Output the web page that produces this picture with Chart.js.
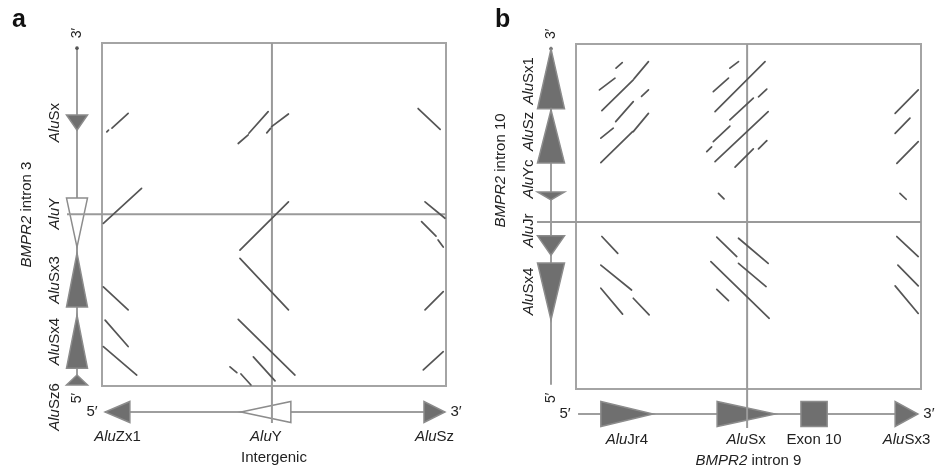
<!DOCTYPE html>
<html>
<head>
<meta charset="utf-8">
<script src="https://cdn.jsdelivr.net/npm/chart.js@4"></script>
<style>
  body { margin: 0; background: #fff; }
  #wrap { position: relative; width: 936px; height: 472px; }
  .panel { position: absolute; top: 0; width: 468px; height: 472px; }
</style>
</head>
<body>
<div id="wrap">
  <div class="panel" style="left:0"><canvas id="chartA"></canvas></div>
  <div class="panel" style="left:468px"><canvas id="chartB"></canvas></div>
</div>
<script>
(function () {
  'use strict';

  // dot plot matches, [x1, y1, x2, y2] in sequence units (0-1000)
  const segmentsA = [
    [14, 741, 19, 746], [29, 752, 76, 795], [4, 474, 115, 576],
    [4, 289, 76, 222], [9, 192, 76, 115], [4, 115, 101, 32],
    [396, 707, 425, 732], [427, 737, 483, 800], [479, 738, 490, 751],
    [493, 756, 542, 793], [401, 396, 542, 537], [401, 372, 542, 222],
    [396, 194, 561, 32], [440, 85, 503, 15], [372, 56, 392, 39],
    [404, 35, 433, 3],
    [919, 809, 983, 748], [939, 537, 997, 489], [929, 479, 971, 437],
    [977, 426, 992, 405], [939, 222, 992, 275], [934, 47, 992, 100]
  ];
  const segmentsB = [
    [68, 867, 113, 901], [116, 930, 134, 946], [75, 807, 166, 896],
    [168, 899, 210, 949], [72, 727, 108, 756], [115, 775, 166, 833],
    [190, 848, 210, 867], [72, 656, 164, 746], [166, 746, 210, 799],
    [75, 442, 121, 393], [72, 359, 161, 287], [166, 263, 212, 215],
    [72, 292, 135, 217],
    [446, 930, 471, 949], [398, 862, 442, 901], [403, 804, 548, 949],
    [446, 780, 514, 843], [529, 847, 553, 869], [379, 688, 393, 702],
    [398, 717, 446, 762], [403, 659, 557, 804], [461, 643, 514, 696],
    [529, 696, 553, 720], [413, 567, 429, 551], [408, 440, 466, 384],
    [471, 437, 557, 364], [391, 369, 560, 205], [471, 364, 551, 297],
    [408, 289, 442, 256],
    [925, 799, 992, 867], [925, 741, 968, 785], [930, 654, 992, 717],
    [939, 567, 957, 550], [930, 442, 992, 384], [933, 359, 992, 299],
    [925, 299, 992, 219]
  ];

  // crosshair (x, y) in sequence units
  const crossA = [494, 501];
  const crossB = [496, 484];

  // sequence extents drawn along each axis
  const leftSpanA = [3, 985];
  const bottomSpanA = [9, 997];
  const leftSpanB = [12, 986];
  const bottomSpanB = [6, 991];

  // repeat elements: name, base, apex (arrow points base -> apex), kind
  const leftFeaturesA = [
    ['AluSx', 790, 746, 'fill'], ['AluY', 548, 405, 'open'],
    ['AluSx3', 230, 388, 'fill'], ['AluSx4', 52, 207, 'fill'],
    ['AluSz6', 3, 32, 'fill']
  ];
  const bottomFeaturesA = [
    ['AluZx1', 81, 9, 'fill'], ['AluY', 549, 404, 'open'], ['AluSz', 936, 997, 'fill']
  ];
  const leftFeaturesB = [
    ['AluSx1', 812, 986, 'fill'], ['AluSz', 655, 809, 'fill'],
    ['AluYc', 571, 548, 'fill'], ['AluJr', 444, 388, 'fill'],
    ['AluSx4', 365, 200, 'fill']
  ];
  const bottomFeaturesB = [
    ['AluJr4', 72, 223, 'fill'], ['AluSx', 409, 577, 'fill'],
    ['Exon 10', 652, 728, 'box'], ['AluSx3', 925, 991, 'fill']
  ];

  const FONT = '"Liberation Sans", Arial, sans-serif';
  const TEXT = '#222';
  const FILL = '#6f6f6f';
  const EDGE = '#8c8c8c';
  const LINE = '#9e9e9e';

  function fontOf(italic, size, bold) {
    return (italic ? 'italic ' : '') + (bold ? 'bold ' : '') + size + 'px ' + FONT;
  }

  function nameParts(name) {
    return name.indexOf('Alu') === 0 ? [['Alu', true], [name.slice(3), false]] : [[name, false]];
  }

  function richText(ctx, parts, x, y, rotate, size) {
    ctx.save();
    ctx.translate(x, y);
    if (rotate) ctx.rotate(-Math.PI / 2);
    ctx.fillStyle = TEXT;
    ctx.textBaseline = 'middle';
    ctx.textAlign = 'left';
    let w = 0;
    parts.forEach(function (p) { ctx.font = fontOf(p[1], size); w += ctx.measureText(p[0]).width; });
    let cx = -w / 2;
    parts.forEach(function (p) {
      ctx.font = fontOf(p[1], size);
      ctx.fillText(p[0], cx, 0);
      cx += ctx.measureText(p[0]).width;
    });
    ctx.restore();
  }

  function poly(ctx, pts, kind) {
    ctx.beginPath();
    ctx.moveTo(pts[0][0], pts[0][1]);
    for (let i = 1; i < pts.length; i++) ctx.lineTo(pts[i][0], pts[i][1]);
    ctx.closePath();
    ctx.fillStyle = kind === 'open' ? '#fff' : FILL;
    ctx.fill();
    ctx.strokeStyle = EDGE;
    ctx.lineWidth = 1.5;
    ctx.stroke();
  }

  function makeDecor(cfg) {
    return {
      id: 'decor',
      beforeDatasetsDraw: function (chart) {
        const ctx = chart.ctx;
        const a = chart.chartArea;
        const xs = chart.scales.x, ys = chart.scales.y;
        const axX = a.left - 25;
        const axY = a.bottom + cfg.bottomGap;

        ctx.save();
        // axis lines
        ctx.strokeStyle = LINE;
        ctx.lineWidth = 2;
        ctx.beginPath();
        ctx.moveTo(axX, ys.getPixelForValue(cfg.leftSpan[1]));
        ctx.lineTo(axX, ys.getPixelForValue(cfg.leftSpan[0]));
        ctx.moveTo(xs.getPixelForValue(cfg.bottomSpan[0]), axY);
        ctx.lineTo(xs.getPixelForValue(cfg.bottomSpan[1]), axY);
        ctx.stroke();
        ctx.fillStyle = '#555';
        ctx.beginPath();
        ctx.arc(axX, ys.getPixelForValue(cfg.leftSpan[1]), 1.8, 0, Math.PI * 2);
        ctx.fill();

        // left features
        const hw = cfg.leftHalf;
        cfg.left.forEach(function (f) {
          const yb = ys.getPixelForValue(f[1]), ya = ys.getPixelForValue(f[2]);
          poly(ctx, [[axX - hw, yb], [axX + hw, yb], [axX, ya]], f[3]);
        });
        // bottom features
        const hh = cfg.bottomHalf;
        cfg.bottom.forEach(function (f) {
          const xb = xs.getPixelForValue(f[1]), xa = xs.getPixelForValue(f[2]);
          if (f[3] === 'box') {
            poly(ctx, [[xb, axY - hh], [xa, axY - hh], [xa, axY + hh], [xb, axY + hh]], 'fill');
          } else {
            poly(ctx, [[xb, axY - hh], [xb, axY + hh], [xa, axY]], f[3]);
          }
        });

        // plot frame and crosshair
        ctx.strokeStyle = '#a4a4a4';
        ctx.lineWidth = 2;
        ctx.strokeRect(a.left, a.top, a.right - a.left, a.bottom - a.top);
        const cx = xs.getPixelForValue(cfg.cross[0]);
        const cy = ys.getPixelForValue(cfg.cross[1]);
        ctx.strokeStyle = '#9a9a9a';
        ctx.beginPath();
        ctx.moveTo(cx, a.top);
        ctx.lineTo(cx, a.bottom + cfg.crossDown);
        ctx.moveTo(a.left - cfg.crossLeft, cy);
        ctx.lineTo(a.right, cy);
        ctx.stroke();
        ctx.restore();
      },
      afterDraw: function (chart) {
        const ctx = chart.ctx;
        const a = chart.chartArea;
        const xs = chart.scales.x, ys = chart.scales.y;
        const axX = a.left - 25;
        const axY = a.bottom + cfg.bottomGap;

        // panel letter
        ctx.save();
        ctx.fillStyle = '#111';
        ctx.font = fontOf(false, 25, true);
        ctx.textBaseline = 'alphabetic';
        ctx.textAlign = 'left';
        ctx.fillText(cfg.letter, cfg.letterX, 27);
        ctx.restore();

        // strand ends
        const topY = ys.getPixelForValue(cfg.leftSpan[1]);
        const botY = ys.getPixelForValue(cfg.leftSpan[0]);
        richText(ctx, [['3\u2032', false]], axX, topY - 15, true, 14);
        richText(ctx, [['5\u2032', false]], axX, botY + 13, true, 14);
        richText(ctx, [['5\u2032', false]], xs.getPixelForValue(cfg.bottomSpan[0]) - 13, axY, false, 15);
        richText(ctx, [['3\u2032', false]], xs.getPixelForValue(cfg.bottomSpan[1]) + 11, axY, false, 15);

        // feature labels
        cfg.left.forEach(function (f) {
          const y = (ys.getPixelForValue(f[1]) + ys.getPixelForValue(f[2])) / 2 + (cfg.nudge[f[0]] || 0);
          richText(ctx, nameParts(f[0]), a.left - 47, y, true, 15);
        });
        cfg.bottom.forEach(function (f) {
          const x = (xs.getPixelForValue(f[1]) + xs.getPixelForValue(f[2])) / 2;
          richText(ctx, nameParts(f[0]), x, a.bottom + 51, false, 15);
        });

        // axis titles
        richText(ctx, cfg.leftTitle, a.left - 75, (a.top + a.bottom) / 2 + cfg.leftTitleShift, true, 15);
        richText(ctx, cfg.bottomTitle, (a.left + a.right) / 2, a.bottom + 72, false, 15);
      }
    };
  }

  function makeChart(id, segs, pad, cfg) {
    new Chart(document.getElementById(id), {
      type: 'scatter',
      data: {
        datasets: segs.map(function (s) {
          return {
            data: [{ x: s[0], y: s[1] }, { x: s[2], y: s[3] }],
            showLine: true,
            borderColor: '#555',
            borderWidth: 1.7,
            borderCapStyle: 'round',
            pointRadius: 0
          };
        })
      },
      options: {
        responsive: true,
        maintainAspectRatio: false,
        animation: false,
        events: [],
        layout: { padding: pad },
        scales: {
          x: { type: 'linear', min: 0, max: 1000, display: false },
          y: { type: 'linear', min: 0, max: 1000, display: false }
        },
        plugins: { legend: { display: false }, tooltip: { enabled: false } }
      },
      plugins: [makeDecor(cfg)]
    });
  }

  makeChart('chartA', segmentsA, { left: 102, top: 43, right: 22, bottom: 86 }, {
    letter: 'a', letterX: 12,
    cross: crossA, leftSpan: leftSpanA, bottomSpan: bottomSpanA,
    left: leftFeaturesA, bottom: bottomFeaturesA,
    leftHalf: 10.5, bottomHalf: 10.5, bottomGap: 26,
    crossDown: 37, crossLeft: 35,
    nudge: { AluY: -9, AluSz6: 27 },
    leftTitle: [['BMPR2', true], [' intron 3', false]], leftTitleShift: 0,
    bottomTitle: [['Intergenic', false]]
  });

  makeChart('chartB', segmentsB, { left: 108, top: 44, right: 15, bottom: 83 }, {
    letter: 'b', letterX: 27,
    cross: crossB, leftSpan: leftSpanB, bottomSpan: bottomSpanB,
    left: leftFeaturesB, bottom: bottomFeaturesB,
    leftHalf: 13.5, bottomHalf: 12.5, bottomGap: 25,
    crossDown: 39, crossLeft: 39,
    nudge: { AluSx1: 2, AluSz: -5, AluYc: -17, AluJr: -15 },
    leftTitle: [['BMPR2', true], [' intron 10', false]], leftTitleShift: -46,
    bottomTitle: [['BMPR2', true], [' intron 9', false]]
  });
})();
</script>
</body>
</html>
